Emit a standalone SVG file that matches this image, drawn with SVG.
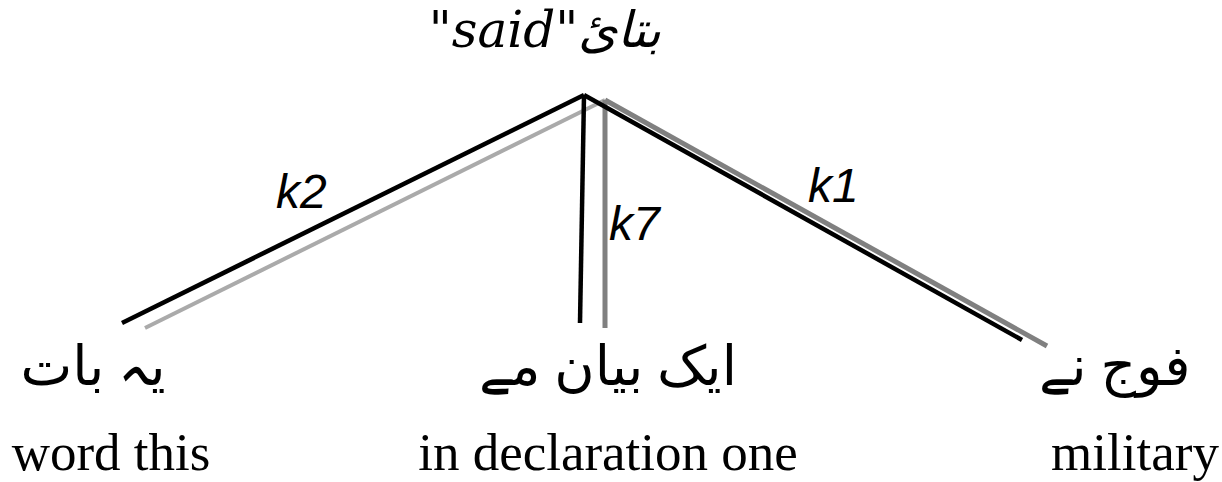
<svg xmlns="http://www.w3.org/2000/svg" width="1222" height="482" viewBox="0 0 1222 482">
<style>
.en{font-family:"Liberation Serif",serif;font-size:53px;fill:#000;text-anchor:middle}
.ur{font-family:"Liberation Serif","DejaVu Sans",serif;font-size:55px;fill:#000;text-anchor:middle}
.lbl{font-family:"Liberation Sans",Arial,sans-serif;font-style:italic;font-size:48px;fill:#000}
.top{font-family:"DejaVu Serif","DejaVu Sans",serif;font-style:italic;font-size:50px;fill:#000;text-anchor:middle}
.blk{stroke:#000;stroke-width:4.5;fill:none}
.g1{stroke:#aaaaaa;stroke-width:4;fill:none}
.g2{stroke:#808080;stroke-width:5;fill:none}
</style>
<g id="connectors">
<line class="g1" x1="605" y1="100" x2="145" y2="328"/>
<line class="g2" x1="605" y1="100" x2="605" y2="328"/>
<line class="g2" x1="605" y1="100" x2="1047" y2="346"/>
<line class="blk" x1="584" y1="95" x2="122" y2="323"/>
<line class="blk" x1="584" y1="95" x2="580" y2="323"/>
<line class="blk" x1="584" y1="95" x2="1022" y2="340"/>
<text class="lbl" x="276" y="208">k2</text>
<text class="lbl" x="609" y="240">k7</text>
<text class="lbl" x="808" y="202">k1</text>
</g>
<g id="root"><text class="top" x="545" y="47">"said"بتائ</text></g>
<g id="n1"><text class="ur" x="93" y="385">یہ بات</text><text class="en" x="111" y="470">word this</text></g>
<g id="n2"><text class="ur" x="608" y="385">ایک بیان مے</text><text class="en" x="608" y="470">in declaration one</text></g>
<g id="n3"><text class="ur" x="1115" y="385">فوج نے</text><text class="en" x="1135" y="470">military</text></g>
</svg>
